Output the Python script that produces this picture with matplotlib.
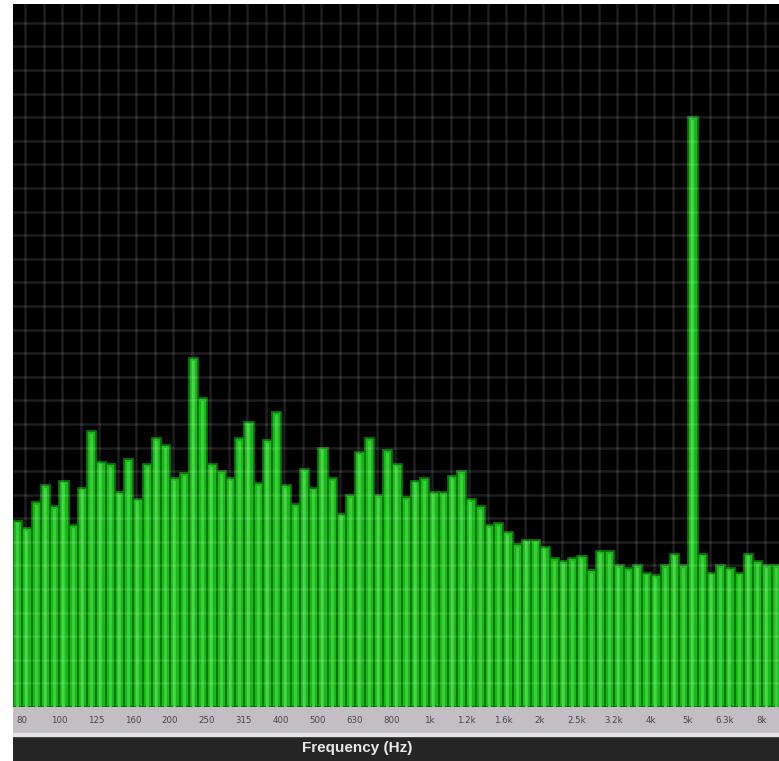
import numpy as np
import matplotlib
matplotlib.use("Agg")
import matplotlib.pyplot as plt
from matplotlib.patches import Rectangle

# 1/12-octave band levels (dB, relative), one per bar, starting just below 80 Hz
levels = [
    7.9, 7.6, 8.7, 9.4, 8.5, 9.6, 7.7, 9.3, 11.7, 10.4,
    10.3, 9.1, 10.5, 8.8, 10.3, 11.4, 11.1, 9.7, 9.9, 14.8,
    13.1, 10.3, 10.0, 9.7, 11.4, 12.1, 9.5, 11.3, 12.5, 9.4,
    8.6, 10.1, 9.3, 11.0, 9.7, 8.2, 9.0, 10.8, 11.4, 9.0,
    10.9, 10.3, 8.9, 9.6, 9.7, 9.1, 9.1, 9.8, 10.0, 8.8,
    8.5, 7.7, 7.8, 7.4, 6.9, 7.1, 7.1, 6.8, 6.3, 6.2,
    6.3, 6.4, 5.8, 6.6, 6.6, 6.0, 5.9, 6.0, 5.7, 5.6,
    6.0, 6.5, 6.0, 25.0, 6.5, 5.7, 6.0, 5.9, 5.7, 6.5,
    6.2, 6.0, 6.0,
]

# third-octave labels shown under every fourth band
band_labels = ["80", "100", "125", "160", "200", "250", "315", "400", "500",
               "630", "800", "1k", "1.2k", "1.6k", "2k", "2.5k", "3.2k", "4k",
               "5k", "6.3k", "8k"]

W, H = 779, 761
fig = plt.figure(figsize=(W / 100, H / 100), dpi=100, facecolor="white")


def px_rect(x0, y0, x1, y1):
    return [x0 / W, 1 - y1 / H, (x1 - x0) / W, (y1 - y0) / H]


XLIM = (-0.5, 82.3)
YLIM = (0, 29.8)

# --- spectrum display ---
ax = fig.add_axes(px_rect(13, 4, 779, 707))
ax.set_facecolor("black")
idx = np.arange(len(levels))
ax.bar(idx, levels, width=1.0, color="#17b817", edgecolor="#087208",
       linewidth=1.3, zorder=2)
ax.bar(idx, np.array(levels) - 0.12, width=0.32, color="#38cf38",
       linewidth=0, zorder=2.1)
ax.set_xlim(*XLIM)
ax.set_ylim(*YLIM)
ax.set_xticks(np.arange(0.8, XLIM[1], 2))
ax.set_yticks(np.arange(1, 30))
ax.set_axisbelow(False)
ax.grid(True, color="white", alpha=0.12, linewidth=1.8)
ax.tick_params(length=0, labelbottom=False, labelleft=False)
for s in ax.spines.values():
    s.set_visible(False)

# --- frequency label strip ---
strip = fig.add_axes(px_rect(13, 707, 779, 733))
strip.set_facecolor("#c2bec4")
strip.set_xlim(*XLIM)
strip.set_ylim(0, 1)
strip.set_xticks(np.arange(len(band_labels)) * 4 + 0.45)
strip.set_xticklabels(band_labels, fontsize=6.2, color="#484848")
strip.set_yticks([])
strip.tick_params(axis="x", length=0, pad=-12.5)
for s in strip.spines.values():
    s.set_visible(False)

# --- title bar ---
fig.add_artist(Rectangle((13 / W, 1 - 736 / H), (W - 13) / W, 3 / H,
                         transform=fig.transFigure, color="#e4e4e4", zorder=1))
bar = fig.add_axes(px_rect(13, 736, 779, 761))
bar.set_facecolor("#262626")
bar.set_xticks([])
bar.set_yticks([])
for s in bar.spines.values():
    s.set_visible(False)
fig.text(357 / W, 1 - 748 / H, "Frequency (Hz)", ha="center", va="center",
         fontsize=11, fontweight="bold", color="#e8e8e8",
         family="Liberation Sans")

fig.savefig("out.png", dpi=100, facecolor="white")
